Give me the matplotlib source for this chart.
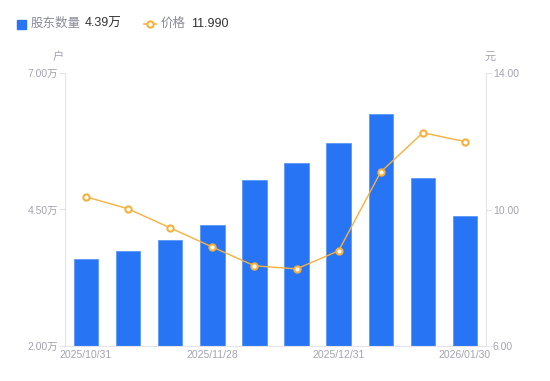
import matplotlib
matplotlib.use("Agg")
import matplotlib.pyplot as plt
from matplotlib.lines import Line2D
from matplotlib.patches import Rectangle

plt.rcParams["font.family"] = ["Liberation Sans", "Noto Sans CJK SC", "DejaVu Sans"]
plt.rcParams["axes.unicode_minus"] = False

# ============================================================
# 数据
# ============================================================
dates = ["2025/10/31", "2025/11/10", "2025/11/20", "2025/11/28", "2025/12/10",
         "2025/12/19", "2025/12/31", "2026/01/09", "2026/01/20", "2026/01/30"]
holders = [3.59, 3.74, 3.94, 4.22, 5.04, 5.35, 5.72, 6.25, 5.08, 4.39]   # 万户
price = [10.37, 10.02, 9.46, 8.90, 8.35, 8.26, 8.79, 11.10, 12.25, 11.99]  # 元
show_idx = [0, 3, 6, 9]

BLUE = "#2775F5"
ORANGE = "#F8B03C"
GREY = "#A3A3B3"
AXIS = "#E3E3E8"

fig = plt.figure(figsize=(5.5, 3.81), dpi=100)
ax = fig.add_axes([65 / 550, 35 / 381, 421 / 550, 273 / 381])
ax2 = ax.twinx()

x = list(range(len(dates)))
ax.bar(x, holders, width=0.58, color=BLUE, edgecolor="#5A98F7", linewidth=0.6,
       bottom=0, zorder=2)
ax.set_ylim(2.0, 7.0)
ax.set_xlim(-0.5, len(dates) - 0.5)
ax.set_yticks([2.0, 4.5, 7.0])
ax.set_yticklabels(["2.00万", "4.50万", "7.00万"])
ax.set_xticks([x[i] for i in show_idx])
ax.set_xticklabels([dates[i] for i in show_idx])

ax2.plot(x, price, color=ORANGE, linewidth=1.0, marker="o", markersize=4.5,
         markerfacecolor="white", markeredgecolor=ORANGE, markeredgewidth=1.5,
         zorder=3)
ax2.set_ylim(6.0, 14.0)
ax2.set_yticks([6.0, 10.0, 14.0])
ax2.set_yticklabels(["6.00", "10.00", "14.00"])

for a in (ax, ax2):
    for s in a.spines.values():
        s.set_visible(False)
    a.tick_params(colors=GREY, labelsize=7.5, length=4, width=0.8)
    a.tick_params(axis="y", color=AXIS)

ax.spines["left"].set_visible(True)
ax.spines["left"].set_color(AXIS)
ax.spines["bottom"].set_visible(True)
ax.spines["bottom"].set_color(AXIS)
ax2.spines["right"].set_visible(True)
ax2.spines["right"].set_color(AXIS)
ax.tick_params(axis="x", length=0, pad=3)
ax.tick_params(axis="y", pad=1)
ax2.tick_params(axis="y", pad=1)

# 单位
fig.text(58 / 550, 1 - 57 / 381, "户", color=GREY, fontsize=8, ha="center", va="center")
fig.text(490 / 550, 1 - 57 / 381, "元", color=GREY, fontsize=8, ha="center", va="center")

# 图例
ly = 1 - 24 / 381
fig.patches.append(Rectangle((17 / 550, ly - 4.5 / 381), 9 / 550, 9 / 381,
                             transform=fig.transFigure, color=BLUE, figure=fig))
fig.text(31 / 550, ly, "股东数量", color="#8A8A99", fontsize=9, va="center")
fig.text(85 / 550, ly, f"{holders[-1]:.2f}万", color="#333333", fontsize=9, va="center")
fig.lines.append(Line2D([144 / 550, 156 / 550], [ly, ly], transform=fig.transFigure,
                        color=ORANGE, linewidth=1.2))
fig.lines.append(Line2D([150 / 550], [ly], transform=fig.transFigure, color=ORANGE,
                        marker="o", markersize=4.5, markerfacecolor="white",
                        markeredgewidth=1.5, linestyle="none"))
fig.text(161 / 550, ly, "价格", color="#8A8A99", fontsize=9, va="center")
fig.text(191 / 550, ly, f"{price[-1]:.3f}", color="#333333", fontsize=9, va="center")

fig.savefig("out.png", dpi=100)
